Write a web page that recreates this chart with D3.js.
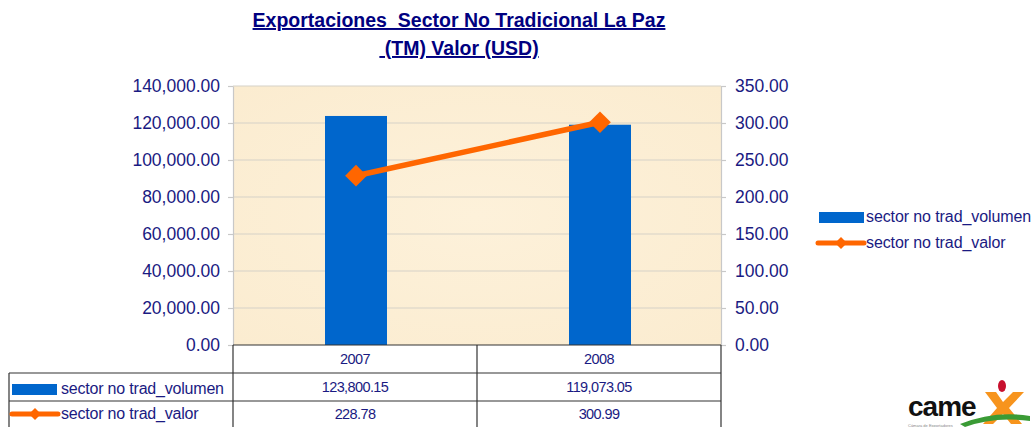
<!DOCTYPE html>
<html>
<head>
<meta charset="utf-8">
<script src="https://cdn.jsdelivr.net/npm/d3@7"></script>
<style>
  body { margin: 0; background: #fff; }
  text { font-family: "Liberation Sans", Arial, sans-serif; }
</style>
</head>
<body>
<script>
// data
var years = ["2007", "2008"];
var volumen = [123800.15, 119073.05];
var valor = [228.78, 300.99];
var seriesNames = ["sector no trad_volumen", "sector no trad_valor"];
var leftTicks = [0, 20000, 40000, 60000, 80000, 100000, 120000, 140000];
var rightTicks = [0, 50, 100, 150, 200, 250, 300, 350];

var width = 1035, height = 427;
var navy = "#1a1a82";
var blue = "#0066cc";
var orange = "#ff6600";

var svg = d3.select("body").append("svg").attr("width", width).attr("height", height);

var plotL = 233, plotR = 721, plotT = 86, plotB = 345;

var x = d3.scaleBand().domain(years).range([plotL, plotR]);
var yL = d3.scaleLinear().domain([0, 140000]).range([plotB, plotT]);
var yR = d3.scaleLinear().domain([0, 350]).range([plotB, plotT]);
var fmt = d3.format(",.2f");

// title
svg.append("text").attr("x", 459).attr("y", 27).attr("text-anchor", "middle")
  .attr("font-size", "19.5px").attr("font-weight", "bold").attr("fill", "#000080")
  .attr("text-decoration", "underline").style("white-space", "pre")
  .text("Exportaciones  Sector No Tradicional La Paz");
svg.append("text").attr("x", 459).attr("y", 55).attr("text-anchor", "middle")
  .attr("font-size", "19.5px").attr("font-weight", "bold").attr("fill", "#000080")
  .attr("text-decoration", "underline").style("white-space", "pre")
  .text(" (TM) Valor (USD)");

// plot background
var defs = svg.append("defs");
var grad = defs.append("radialGradient").attr("id", "paper").attr("cx", "50%").attr("cy", "50%").attr("r", "70%");
grad.append("stop").attr("offset", "0%").attr("stop-color", "#fdf1da");
grad.append("stop").attr("offset", "100%").attr("stop-color", "#fbecd0");
svg.append("rect").attr("x", plotL).attr("y", plotT).attr("width", plotR - plotL).attr("height", plotB - plotT)
  .attr("fill", "url(#paper)");

// gridlines
svg.append("g").selectAll("line").data(leftTicks.slice(1)).enter().append("line")
  .attr("x1", plotL).attr("x2", plotR)
  .attr("y1", function (d) { return yL(d); }).attr("y2", function (d) { return yL(d); })
  .attr("stroke", "#d6d2c8").attr("stroke-width", 1.2);

// axes
var axL = svg.append("g").attr("transform", "translate(" + plotL + ",0)")
  .call(d3.axisLeft(yL).tickValues(leftTicks).tickFormat(fmt).tickSizeInner(5).tickSizeOuter(0).tickPadding(8));
var axR = svg.append("g").attr("transform", "translate(" + plotR + ",0)")
  .call(d3.axisRight(yR).tickValues(rightTicks).tickFormat(fmt).tickSizeInner(5).tickSizeOuter(0).tickPadding(9));
[axL, axR].forEach(function (ax) {
  ax.select(".domain").attr("stroke", "#c8c8c8").attr("stroke-width", 1.2);
  ax.selectAll(".tick line").attr("stroke", "#c8c8c8").attr("stroke-width", 1.2);
  ax.selectAll(".tick text").attr("fill", navy).attr("font-size", "17.5px")
    .attr("font-family", "Liberation Sans, Arial, sans-serif");
});

// bars
var barW = 62;
svg.append("g").selectAll("rect").data(volumen).enter().append("rect")
  .attr("x", function (d, i) { return x(years[i]) + x.bandwidth() / 2 - barW / 2 + 1; })
  .attr("y", function (d) { return yL(d); })
  .attr("width", barW)
  .attr("height", function (d) { return plotB - yL(d); })
  .attr("fill", blue);

// line + markers
var cx = function (d, i) { return x(years[i]) + x.bandwidth() / 2 + 1; };
var line = d3.line().x(cx).y(function (d) { return yR(d); });
svg.append("path").datum(valor).attr("d", line).attr("fill", "none")
  .attr("stroke", orange).attr("stroke-width", 5.5);
svg.append("g").selectAll("path").data(valor).enter().append("path")
  .attr("d", d3.symbol().type(d3.symbolDiamond2).size(300))
  .attr("transform", function (d, i) { return "translate(" + cx(d, i) + "," + yR(d) + ")"; })
  .attr("fill", orange);

// data table
var tL = 9, tRowY = [345, 373, 401, 427];
var tbl = svg.append("g").attr("stroke", "#333").attr("stroke-width", 1.2);
tbl.append("line").attr("x1", plotL).attr("x2", plotR).attr("y1", plotB).attr("y2", plotB);
tbl.append("line").attr("x1", tL).attr("x2", plotR).attr("y1", tRowY[1]).attr("y2", tRowY[1]);
tbl.append("line").attr("x1", tL).attr("x2", plotR).attr("y1", tRowY[2]).attr("y2", tRowY[2]);
tbl.append("line").attr("x1", tL).attr("x2", tL).attr("y1", tRowY[1]).attr("y2", height);
tbl.selectAll(".vcol").data(years.concat(["end"])).enter().append("line")
  .attr("x1", function (d, i) { return plotL + i * x.bandwidth(); })
  .attr("x2", function (d, i) { return plotL + i * x.bandwidth(); })
  .attr("y1", plotB).attr("y2", height);

var tFont = "14.5px";
svg.append("g").selectAll("text").data(years).enter().append("text")
  .attr("x", function (d) { return x(d) + x.bandwidth() / 2; }).attr("y", 364)
  .attr("text-anchor", "middle").attr("font-size", tFont).attr("letter-spacing", "-0.6px").attr("fill", navy)
  .text(function (d) { return d; });
svg.append("g").selectAll("text").data(volumen).enter().append("text")
  .attr("x", function (d, i) { return x(years[i]) + x.bandwidth() / 2; }).attr("y", 392)
  .attr("text-anchor", "middle").attr("font-size", tFont).attr("letter-spacing", "-0.6px").attr("fill", navy)
  .text(function (d) { return fmt(d); });
svg.append("g").selectAll("text").data(valor).enter().append("text")
  .attr("x", function (d, i) { return x(years[i]) + x.bandwidth() / 2; }).attr("y", 419)
  .attr("text-anchor", "middle").attr("font-size", tFont).attr("letter-spacing", "-0.6px").attr("fill", navy)
  .text(function (d) { return fmt(d); });

// legend keys
function barKey(g, kx, ky) {
  g.append("rect").attr("x", kx).attr("y", ky - 5).attr("width", 45).attr("height", 11).attr("fill", blue);
}
function lineKey(g, kx, ky) {
  g.append("line").attr("x1", kx).attr("x2", kx + 46).attr("y1", ky).attr("y2", ky)
    .attr("stroke", orange).attr("stroke-width", 5).attr("stroke-linecap", "round");
  g.append("path").attr("d", d3.symbol().type(d3.symbolDiamond2).size(90))
    .attr("transform", "translate(" + (kx + 23) + "," + ky + ")").attr("fill", orange);
}
var tk = svg.append("g");
barKey(tk, 12, 389);
lineKey(tk, 12, 414);
tk.append("text").attr("x", 61).attr("y", 394).attr("font-size", "16px").attr("letter-spacing", "-0.2px").attr("fill", navy).text(seriesNames[0]);
tk.append("text").attr("x", 61).attr("y", 419).attr("font-size", "16px").attr("letter-spacing", "-0.2px").attr("fill", navy).text(seriesNames[1]);

// right legend
var lg = svg.append("g");
barKey(lg, 819, 217);
lineKey(lg, 818, 243);
lg.append("text").attr("x", 866).attr("y", 222).attr("font-size", "16px").attr("letter-spacing", "-0.1px").attr("fill", navy).text(seriesNames[0]);
lg.append("text").attr("x", 866).attr("y", 248).attr("font-size", "16px").attr("letter-spacing", "-0.1px").attr("fill", navy).text(seriesNames[1]);

// logo
var logo = svg.append("g");
logo.append("path").attr("d", "M985,392 L996,392 L1003,402 L1013,392 L1024,392 L1009,408 L1022,424 L1011,424 L1003,414 L993,424 L983,424 L997,408 Z")
  .attr("fill", "#f7941d");
logo.append("ellipse").attr("cx", 1002).attr("cy", 386).attr("rx", 4).attr("ry", 6).attr("fill", "#c8102e");
logo.append("path").attr("d", "M960,424 Q995,410 1030,416 L1030,421 Q995,416 965,427 Z").attr("fill", "#3a9b35");
logo.append("text").attr("x", 908).attr("y", 416).attr("font-size", "28px").attr("font-weight", "bold")
  .attr("letter-spacing", "-1px").attr("fill", "#111").text("came");
logo.append("text").attr("x", 908).attr("y", 427).attr("font-size", "4px").attr("fill", "#888").text("Cámara de Exportadores");
</script>
</body>
</html>
